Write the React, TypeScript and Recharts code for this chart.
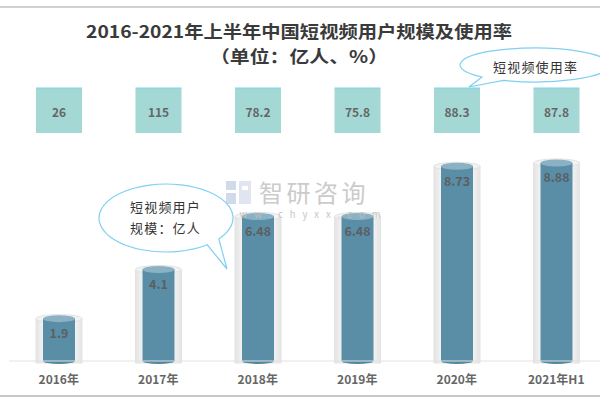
import React from 'react';
import { BarChart, Bar, XAxis, YAxis, LabelList } from 'recharts';

const categories = ['2016年', '2017年', '2018年', '2019年', '2020年', '2021年H1'];
const userScale = [1.9, 4.1, 6.48, 6.48, 8.73, 8.88];
const usageRate = [26, 115, 78.2, 75.8, 88.3, 87.8];

const data = categories.map((name, i) => ({ name, users: userScale[i], rate: usageRate[i] }));

const FONT = '"Noto Sans CJK SC", "Noto Sans", sans-serif';

const Cylinder = (props: any) => {
  const { x, y, width, height } = props;
  if (width == null) return null;
  const base = y + height;
  const cx = x + width / 2;
  const iw = 32;
  const ix = cx - iw / 2;
  return (
    <g>
      <rect x={x} y={y} width={width} height={height + 2} fill="url(#glass)" stroke="#e4e4e4" strokeWidth={1} />
      <ellipse cx={cx} cy={y} rx={width / 2} ry={4} fill="#f3f3f3" stroke="#e2e2e2" strokeWidth={1} />
      <ellipse cx={cx} cy={base} rx={iw / 2} ry={3} fill="#4f879f" />
      <rect x={ix} y={y} width={iw} height={height} fill="#5a8ea7" />
      <ellipse cx={cx} cy={y} rx={iw / 2} ry={3.5} fill="#8ab2c4" />
    </g>
  );
};

const RateBox = (props: any) => {
  const { x, width, value } = props;
  const cx = x + width / 2;
  return (
    <g>
      <rect x={cx - 23} y={88} width={46} height={45} fill="#a3d8d5" />
      <line x1={cx - 23} x2={cx + 23} y1={88} y2={88} stroke="#7fd2ee" strokeWidth={1} />
      <text x={cx} y={111} textAnchor="middle" dominantBaseline="central" fontFamily={FONT} fontWeight={700} fontSize={12} fill="#666">
        {value}
      </text>
    </g>
  );
};

const InnerLabel = (props: any) => {
  const { x, y, width, value } = props;
  return (
    <text x={x + width / 2} y={y + 14} textAnchor="middle" dominantBaseline="central" fontFamily={FONT} fontWeight={700} fontSize={12.5} fill="#5c5f61">
      {value}
    </text>
  );
};

const Tick = (props: any) => {
  const { x, y, payload } = props;
  return (
    <text x={x} y={y + 9} textAnchor="middle" dominantBaseline="central" fontFamily={FONT} fontWeight={700} fontSize={12} fill="#666">
      {payload.value}
    </text>
  );
};

function bubblePath(cx: number, cy: number, rx: number, ry: number, a1: number, a2: number, tx: number, ty: number) {
  const p = (a: number) => [cx + rx * Math.cos((a * Math.PI) / 180), cy + ry * Math.sin((a * Math.PI) / 180)];
  const [x1, y1] = p(a1);
  const [x2, y2] = p(a2);
  return `M${x1},${y1} A${rx},${ry} 0 1 1 ${x2},${y2} L${tx},${ty} Z`;
}

export default function App() {
  return (
    <div style={{ position: 'absolute', left: 0, top: 0, width: 600, height: 400, background: '#fff' }}>
      <div style={{ position: 'absolute', left: 0, top: 0 }}>
        <BarChart width={600} height={400} data={data} margin={{ top: 138, right: -6, left: 9, bottom: 9 }}>
          <defs>
            <linearGradient id="glass" x1="0" y1="0" x2="1" y2="0">
              <stop offset="0%" stopColor="#e4e4e4" />
              <stop offset="18%" stopColor="#f4f4f4" />
              <stop offset="82%" stopColor="#f4f4f4" />
              <stop offset="100%" stopColor="#e4e4e4" />
            </linearGradient>
          </defs>
          <XAxis dataKey="name" height={30} axisLine={{ stroke: '#e2e2e2' }} tickLine={false} tick={<Tick />} interval={0} />
          <YAxis hide domain={[0, 10]} />
          <Bar dataKey="users" barSize={46} shape={<Cylinder />} isAnimationActive={false}>
            <LabelList dataKey="users" content={<InnerLabel />} />
            <LabelList dataKey="rate" content={<RateBox />} />
          </Bar>
        </BarChart>
      </div>
      <svg width={600} height={400} style={{ position: 'absolute', left: 0, top: 0, pointerEvents: 'none' }}>
        <g opacity={0.9}>
          <rect x={226} y={181} width={10} height={9} fill="#cdd6e8" />
          <rect x={226} y={193} width={10} height={11} fill="#cdd6e8" />
          <rect x={239} y={181} width={12} height={23} fill="#dde3ee" />
          <rect x={242} y={186} width={6} height={4} fill="#fff" />
          <text x={259} y={191} dominantBaseline="central" fontFamily={FONT} fontSize={24} fill="#c6c6c6" letterSpacing={3.5}>智研咨询</text>
          <text x={225} y={214} dominantBaseline="central" fontFamily={FONT} fontSize={9.5} fill="#c0c0c0" letterSpacing={7}>www.chyxx.com</text>
        </g>
        <line x1={0} x2={600} y1={7} y2={7} stroke="#d0d0d0" strokeWidth={2} />
        <line x1={0} x2={600} y1={396} y2={396} stroke="#c8c8c8" strokeWidth={2} />
        <text x={299} y={30} textAnchor="middle" dominantBaseline="central" fontFamily={FONT} fontWeight={700} fontSize={17} fill="#3a3a3a" textLength={426} lengthAdjust="spacingAndGlyphs">
          2016-2021年上半年中国短视频用户规模及使用率
        </text>
        <text x={299} y={55} textAnchor="middle" dominantBaseline="central" fontFamily={FONT} fontWeight={700} fontSize={17} fill="#3a3a3a" textLength={178} lengthAdjust="spacingAndGlyphs">
          （单位：亿人、%）
        </text>
        <path d={bubblePath(166, 218, 67, 34, 52, 38, 227, 269)} fill="#fff" stroke="#7fd0f2" strokeWidth={1.2} />
        <text x={130} y={206} dominantBaseline="central" fontFamily={FONT} fontSize={13} fill="#333" letterSpacing={1.2}>短视频用户</text>
        <text x={130} y={227} dominantBaseline="central" fontFamily={FONT} fontSize={13} fill="#333" letterSpacing={1.2}>规模：亿人</text>
        <path d={bubblePath(535, 65, 75, 17, 135, 115, 469, 87)} fill="#fff" stroke="#7fd0f2" strokeWidth={1.2} />
        <text x={493} y={66} dominantBaseline="central" fontFamily={FONT} fontSize={13} fill="#333" letterSpacing={1.2}>短视频使用率</text>
      </svg>
    </div>
  );
}
